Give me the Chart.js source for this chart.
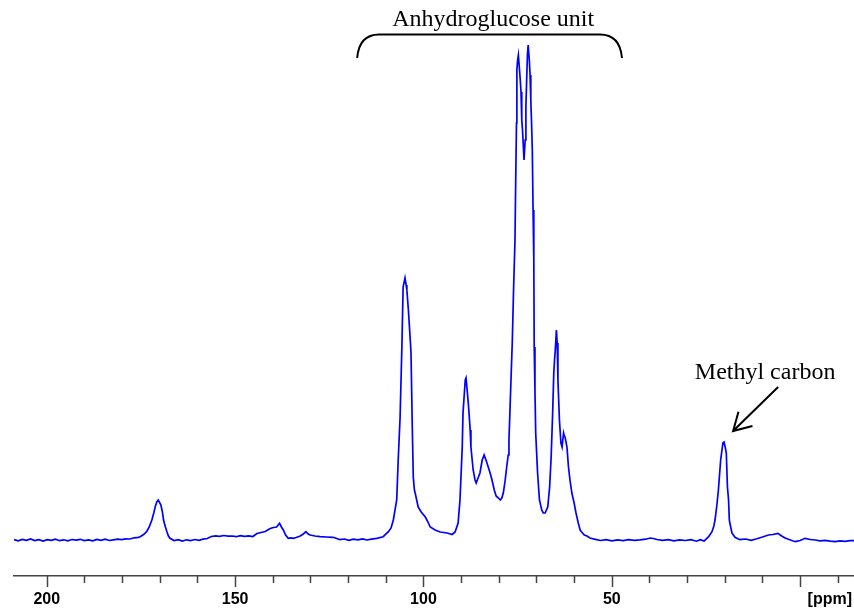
<!DOCTYPE html>
<html>
<head>
<meta charset="utf-8">
<title>13C CP/MAS NMR spectrum</title>
<script src="https://cdn.jsdelivr.net/npm/chart.js@4.4.1/dist/chart.umd.min.js"></script>
<style>
  html, body { margin: 0; padding: 0; background: #ffffff; }
  canvas { display: block; }
</style>
</head>
<body>
<canvas id="nmr" width="854" height="614"></canvas>
<script>
// Chemical shift (ppm) of each sampled point, high field on the right
const shiftPpm = [
  208.7, 207.6, 206.5, 205.4, 204.3, 203.2, 202.1, 201.0, 199.9, 198.8,
  197.7, 196.6, 195.5, 194.4, 193.3, 192.2, 191.1, 190.0, 188.9, 187.8,
  186.7, 185.6, 184.5, 183.4, 182.3, 181.2, 180.1, 179.0, 177.9, 176.8,
  175.7, 175.2, 174.3, 173.5, 172.8, 172.1, 171.6, 171.2, 170.8, 170.4,
  169.7, 169.3, 169.0, 168.5, 168.1, 167.7, 167.3, 166.2, 165.1, 164.0,
  162.9, 161.8, 160.7, 159.6, 158.5, 157.4, 156.3, 155.2, 154.1, 153.0,
  151.9, 150.8, 149.7, 148.6, 147.5, 146.4, 145.3, 144.2, 143.1, 142.0,
  140.7, 139.8, 139.0, 138.2, 137.7, 137.2, 136.6, 135.9, 135.2, 134.5,
  133.8, 132.7, 131.9, 131.2, 130.6, 130.1, 128.8, 127.4, 125.8, 124.0,
  123.0, 122.2, 121.0, 119.8, 118.6, 117.4, 116.2, 115.0, 113.8, 112.4,
  110.7, 109.3, 108.6, 108.0, 107.1, 106.7, 106.2, 105.7, 105.4, 104.9,
  104.6, 104.4, 104.0, 103.5, 103.3, 103.0, 102.7, 102.4, 102.2, 101.4,
  100.6, 99.5, 98.8, 98.2, 96.9, 95.6, 93.7, 92.4, 91.6, 90.8,
  90.3, 89.7, 89.5, 88.9, 88.7, 88.4, 88.1, 87.9, 87.6, 87.4,
  86.8, 86.3, 86.0, 85.5, 85.0, 84.4, 83.9, 83.4, 82.8, 82.3,
  81.8, 81.2, 80.7, 80.1, 79.6, 79.2, 78.8, 78.3, 77.9, 77.5,
  77.3, 77.0, 76.7, 76.4, 76.1, 75.7, 75.5, 75.3, 75.2, 75.0,
  74.8, 74.6, 74.3, 74.1, 73.9, 73.7, 73.5, 73.3, 73.0, 72.8,
  72.6, 72.4, 72.2, 71.9, 71.7, 71.5, 71.3, 71.1, 70.9, 70.7,
  70.6, 70.4, 70.2, 69.7, 69.2, 68.6, 68.2, 67.7, 67.0, 66.5,
  66.1, 65.7, 65.4, 65.2, 65.0, 64.7, 64.5, 64.3, 63.9, 63.5,
  63.2, 62.8, 62.6, 62.4, 61.9, 61.5, 61.1, 60.6, 60.0, 59.5,
  58.9, 58.4, 58.0, 57.3, 56.6, 55.8, 54.4, 53.0, 51.5, 50.0,
  48.5, 47.0, 45.5, 44.0, 42.5, 41.0, 39.8, 39.0, 38.0, 36.5,
  35.0, 33.5, 32.0, 30.5, 29.0, 27.5, 26.5, 25.5, 24.3, 23.4,
  22.9, 22.6, 22.1, 21.7, 21.1, 20.5, 20.2, 19.9, 19.6, 19.3,
  19.0, 18.8, 18.6, 18.1, 17.3, 16.0, 15.5, 14.5, 13.0, 11.5,
  10.2, 8.4, 7.2, 5.9, 4.9, 4.0, 3.1, 1.3, 0.0, -1.3,
  -2.7, -4.0, -5.3, -6.6, -8.0, -9.3, -10.6, -11.9, -13.3, -14.3
];

// Signal intensity (arbitrary units) at each shift above
const intensity = [
  0.5, -0.8, 0.6, -0.3, 1.0, -0.6, 0.3, -1.0, 0.4, -0.4,
  0.8, -0.7, 0.2, -0.9, 0.5, -0.2, 0.7, -0.6, 0.1, -0.8,
  0.6, -0.3, 0.9, -0.5, 0.2, 0.8, 0.3, 1.2, 1.0, 2.2,
  2.6, 3.3, 5.5, 8.3, 13, 20, 27, 33.3, 38, 40,
  35, 28, 20, 13, 8.3, 4, 1.7, -0.5, 0.4, -1.0,
  0.2, -0.6, 0.5, -0.3, 0.8, 1.5, 3.5, 4.2, 3.6, 4.5,
  3.8, 4.0, 3.3, 4.4, 3.7, 4.1, 3.5, 6.5, 7.5, 8.5,
  11.5, 12.5, 13.0, 16.7, 13, 10, 5, 1.7, 2.2, 1.7,
  2.5, 4, 6, 8.3, 6, 5, 4, 3.3, 3.0, 2.7,
  1.5, 0.3, 1.0, -0.3, 0.8, 0.2, 1.1, 0.0, 0.9, 1.6,
  3.3, 8.3, 12, 20, 40, 80, 123, 197, 253, 262,
  255, 250, 230, 200, 187, 120, 63, 50, 47, 33,
  28, 23, 18, 13, 10, 8, 7, 5.5, 8, 17,
  40, 93, 127, 160, 162, 150, 137, 127, 110, 93,
  70, 60, 57, 62, 67, 80, 85, 80, 73, 67,
  60, 50, 44, 42, 40, 42, 47, 60, 73, 85,
  100, 133, 167, 200, 247, 300, 362, 417, 470, 480,
  485, 475, 460, 448, 420, 410, 395, 380, 400, 433,
  460, 485, 495, 480, 465, 440, 417, 390, 330, 280,
  193, 150, 107, 67, 40, 30, 27, 27, 33, 53,
  83, 127, 167, 180, 190, 210, 197, 160, 120, 97,
  93, 107, 104, 103, 93, 73, 60, 47, 37, 27,
  17, 10, 8, 5, 4, 2, 0.7, -0.5, 0.3, -0.8,
  0.2, -0.6, 0.4, -0.4, 0.1, 0.8, 2.0, 1.5, 0.5, -0.3,
  0.3, -0.8, 0.2, -0.5, 0.4, -1.2, 0.3, -1.0, 3.3, 8.3,
  14, 20, 35, 50, 80, 97, 98, 93, 87, 53,
  40, 20, 16, 7, 2.7, 0.3, 0.7, 1.0, -0.3, 1.2,
  2.7, 5, 5.5, 6.7, 4, 2, 0.7, -1.7, -0.5, 1.7,
  0.5, 0, -0.8, -0.3, -1.2, -1.7, -0.8, -1.3, -0.6, -0.7
];

// Axis tick positions (ppm) and which of them carry a number
const tickPpm = [200, 190, 180, 170, 160, 150, 140, 130, 120, 110, 100, 90, 80, 70, 60, 50, 40, 30, 20, 10, 0, -10];
const labelledTicks = [200, 150, 100, 50];
const majorTicks = [200, 150, 100, 50, 0];
const unitLabel = '[ppm]';

// Annotation texts
const groupLabel = 'Anhydroglucose unit';
const methylLabel = 'Methyl carbon';

const points = shiftPpm.map((p, i) => ({ x: p, y: intensity[i] }));

const annotations = {
  id: 'annotations',
  afterDraw(chart) {
    const ctx = chart.ctx;
    const xs = chart.scales.x;
    const ys = chart.scales.y;
    const X = v => xs.getPixelForValue(v);
    const Y = v => ys.getPixelForValue(v);

    ctx.save();
    ctx.fillStyle = '#000';
    ctx.strokeStyle = '#000';

    // Bracket over the anhydroglucose carbons
    const bl = X(117.6), br = X(47.3), bTop = Y(505.5), bEnd = Y(482);
    const r = 22;
    ctx.lineWidth = 2;
    ctx.beginPath();
    ctx.moveTo(bl, bEnd);
    ctx.quadraticCurveTo(bl + 2, bTop, bl + r, bTop);
    ctx.lineTo(br - r, bTop);
    ctx.quadraticCurveTo(br - 2, bTop, br, bEnd);
    ctx.stroke();

    ctx.font = '24px "Liberation Serif", "Times New Roman", serif';
    ctx.textAlign = 'center';
    ctx.textBaseline = 'alphabetic';
    ctx.fillText(groupLabel, X(81.5), Y(514));
    ctx.fillText(methylLabel, X(9.3), Y(161));

    // Arrow pointing to the methyl peak
    const tx = X(5.84), ty = Y(153), hx = X(17.8), hy = Y(109);
    ctx.lineWidth = 2;
    ctx.beginPath();
    ctx.moveTo(tx, ty);
    ctx.lineTo(hx, hy);
    const ang = Math.atan2(ty - hy, tx - hx);
    const len = 20, spread = Math.PI / 6;
    ctx.moveTo(hx + len * Math.cos(ang - spread), hy + len * Math.sin(ang - spread));
    ctx.lineTo(hx, hy);
    ctx.lineTo(hx + len * Math.cos(ang + spread), hy + len * Math.sin(ang + spread));
    ctx.stroke();

    // Tick marks along the shift axis
    const axisY = xs.top;
    ctx.strokeStyle = '#444';
    ctx.lineWidth = 1.5;
    ctx.beginPath();
    tickPpm.forEach(t => {
      const px = Math.round(X(t)) + 0.5;
      const l = majorTicks.includes(t) ? 11 : 7;
      ctx.moveTo(px, axisY);
      ctx.lineTo(px, axisY + l);
    });
    ctx.stroke();

    // Unit label at the right end of the axis
    ctx.fillStyle = '#000';
    ctx.font = 'bold 16px "Liberation Sans", Arial, sans-serif';
    ctx.textAlign = 'right';
    ctx.textBaseline = 'middle';
    ctx.fillText(unitLabel, chart.width - 2, axisY + 24);
    ctx.restore();
  }
};

new Chart(document.getElementById('nmr'), {
  type: 'scatter',
  data: {
    datasets: [{
      data: points,
      showLine: true,
      borderColor: '#0000ff',
      borderWidth: 1.7,
      pointRadius: 0,
      tension: 0,
      fill: false
    }]
  },
  options: {
    responsive: false,
    animation: false,
    devicePixelRatio: 1,
    layout: { padding: { left: 14, right: 0, top: 0, bottom: 0 } },
    plugins: { legend: { display: false }, tooltip: { enabled: false } },
    scales: {
      x: {
        type: 'linear',
        reverse: true,
        min: -14.3,
        max: 208.7,
        afterBuildTicks: scale => { scale.ticks = tickPpm.map(v => ({ value: v })); },
        afterFit: scale => { scale.height = 38; },
        border: { display: true, color: '#444', width: 1.5 },
        grid: { display: true, drawOnChartArea: false, drawTicks: true, tickLength: 11, color: 'rgba(0,0,0,0)' },
        ticks: {
          autoSkip: false,
          maxRotation: 0,
          padding: 3,
          color: '#000',
          font: { family: '"Liberation Sans", Arial, sans-serif', size: 16, weight: 'bold' },
          callback: v => labelledTicks.includes(v) ? String(v) : ''
        }
      },
      y: {
        display: false,
        min: -36,
        max: 540
      }
    }
  },
  plugins: [annotations]
});
</script>
</body>
</html>
